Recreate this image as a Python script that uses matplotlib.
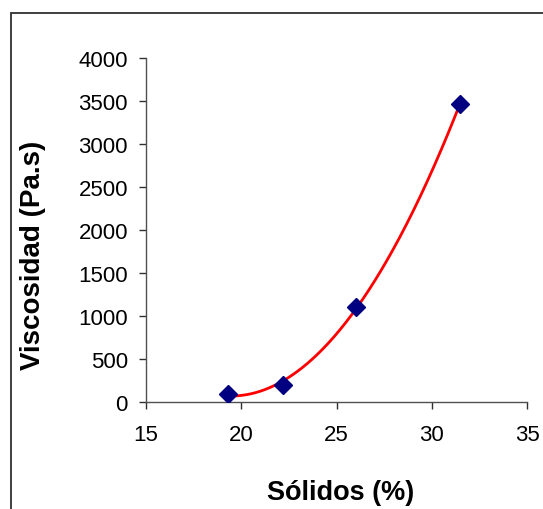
import numpy as np
import matplotlib.pyplot as plt
from matplotlib.patches import Rectangle

# Datos
solidos = [19.3, 22.2, 26.0, 31.5]
viscosidad = [90, 200, 1110, 3470]

x_ticks = [15, 20, 25, 30, 35]
y_ticks = [0, 500, 1000, 1500, 2000, 2500, 3000, 3500, 4000]

plt.rcParams['font.family'] = ['Liberation Sans', 'DejaVu Sans']

fig = plt.figure(figsize=(5.43, 5.10), dpi=100)
ax = fig.add_axes([146 / 543, 1 - 403 / 510, 381 / 543, 344 / 510])

# marco exterior del grafico (sale de la imagen a derecha y abajo)
fig.patches.append(Rectangle((11 / 543, -0.1), 1.2, 1 - 14 / 510 + 0.1,
                             transform=fig.transFigure, fill=False,
                             edgecolor='#303030', linewidth=1.3))

# linea de tendencia polinomica (como la de Excel)
coef = np.polyfit(solidos, viscosidad, 2)
xs = np.linspace(min(solidos), max(solidos), 200)
ax.plot(xs, np.polyval(coef, xs), color='red', linewidth=2.0, zorder=2)

ax.plot(solidos, viscosidad, linestyle='none', marker='D', markersize=9.5,
        color='#000080', zorder=3)

ax.set_xlim(15, 35)
ax.set_ylim(0, 4000)
ax.set_xticks(x_ticks)
ax.set_yticks(y_ticks)

for side in ['top', 'right']:
    ax.spines[side].set_visible(False)
for side in ['left', 'bottom']:
    ax.spines[side].set_color('#505050')
    ax.spines[side].set_linewidth(1.0)

ax.tick_params(axis='both', direction='out', length=5, width=1,
               color='#303030', labelsize=16)
ax.tick_params(axis='x', pad=11)
ax.tick_params(axis='y', pad=8)

fig.text(341 / 543, 1 - 493 / 510, 'Sólidos (%)', fontsize=19.5,
         fontweight='bold', ha='center', va='center')
fig.text(33 / 543, 1 - 255 / 510, 'Viscosidad (Pa.s)', fontsize=20,
         fontweight='bold', ha='center', va='center', rotation=90)

fig.savefig('out.png', dpi=100)
